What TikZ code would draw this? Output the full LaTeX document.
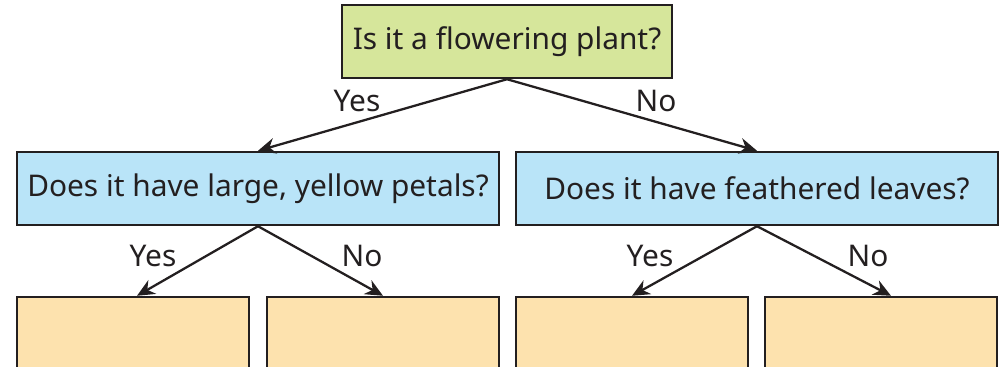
\documentclass[tikz,border=0pt]{standalone}
\usepackage{xcolor}
\usepackage{fontspec}
\setmainfont{Noto Sans}
\usepackage{tikz}
\usetikzlibrary{positioning,calc}
\usetikzlibrary{arrows.meta}

\definecolor{keygreen}{HTML}{D6E69B}
\definecolor{keyblue}{HTML}{B9E4F8}
\definecolor{keyorange}{HTML}{FDE2AE}
\definecolor{keyink}{HTML}{231F20}

\tikzset{
  qbox/.style={draw=keyink,line width=1.4pt,text=keyink,minimum height=73*0.02cm,inner sep=0pt,font=\fontsize{17}{20}\selectfont},
  ansbox/.style={draw=keyink,line width=1.4pt,fill=keyorange,minimum width=232*0.02cm,minimum height=100*0.02cm,inner sep=0pt},
  branch/.style={-{Stealth[length=10pt,width=9pt]},line width=1.3pt,keyink},
  answer/.style={text=keyink,font=\fontsize{17}{20}\selectfont}
}

\begin{document}
\begin{tikzpicture}[x=0.02cm,y=-0.02cm]
			\useasboundingbox (0,0) rectangle (1000,367);
			\node[qbox,fill=keygreen,minimum width=330*0.02cm] (plant) at (507,41.5) {Is it a flowering plant?};
			\node[qbox,fill=keyblue,minimum width=482*0.02cm] (petals) at (258,188.5) {Does it have large, yellow petals?};
			\node[qbox,fill=keyblue,minimum width=482*0.02cm] (leaves) at (757,188.5) {Does it have feathered leaves?};
			\node[ansbox] (a1) at (133,347) {};
			\node[ansbox] (a2) at (383,347) {};
			\node[ansbox] (a3) at (632,347) {};
			\node[ansbox] (a4) at (881,347) {};
			\draw[branch] (plant.south) -- (petals.north);
			\draw[branch] (plant.south) -- (leaves.north);
			\draw[branch] (petals.south) -- ([xshift=0.08cm]a1.north);
			\draw[branch] (petals.south) -- (a2.north);
			\draw[branch] (leaves.south) -- (a3.north);
			\draw[branch] (leaves.south) -- ([xshift=0.2cm]a4.north);
			\node[answer] (y1) at (357,101) {Yes};
			\node[answer] (n1) at (656,101) {No};
			\node[answer] (y2) at (153,256) {Yes};
			\node[answer] (n2) at (362,256) {No};
			\node[answer] (y3) at (650,256) {Yes};
			\node[answer] (n3) at (868,256) {No};
		\end{tikzpicture}
\end{document}
